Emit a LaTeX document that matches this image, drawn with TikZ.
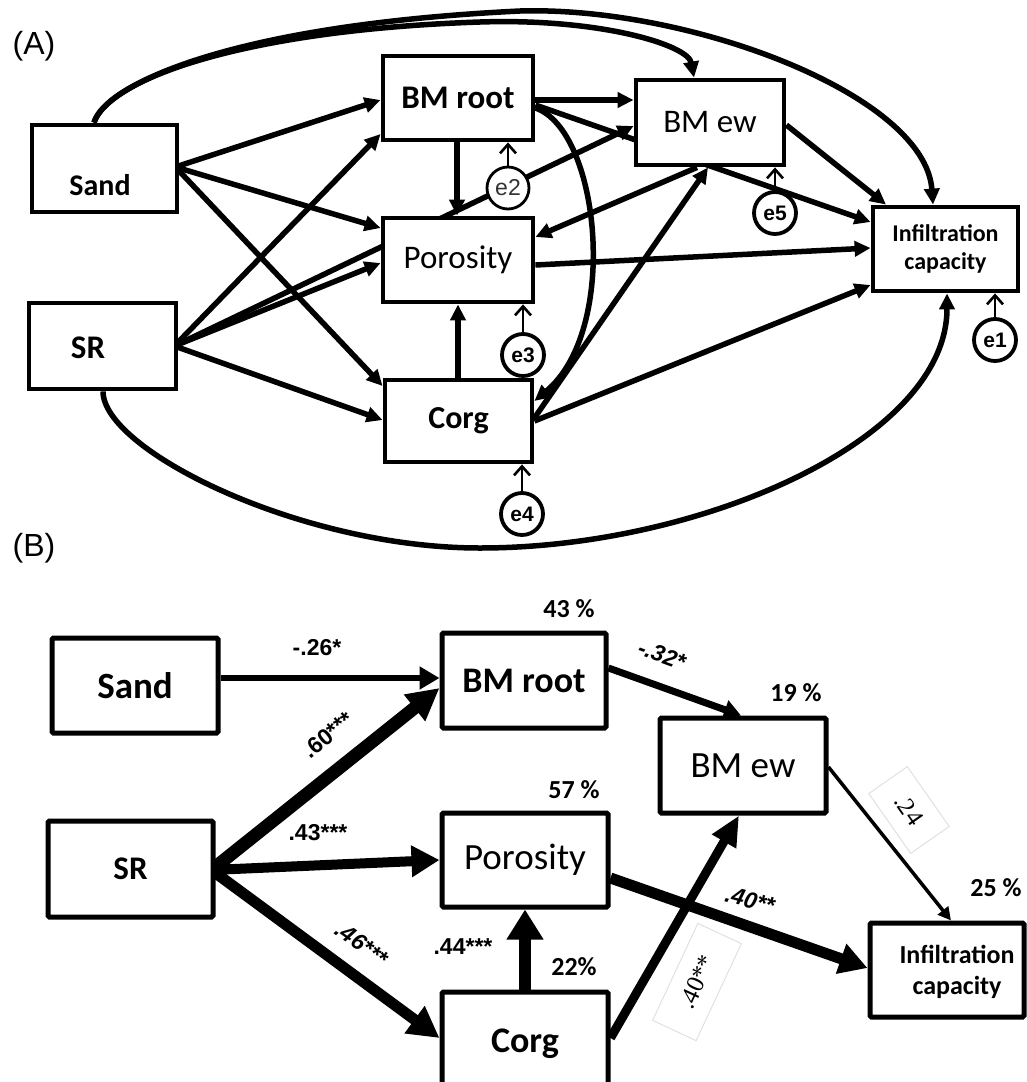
\documentclass[tikz,border=0pt]{standalone}
\usepackage{fontspec}
\setmainfont{Carlito}
\newfontfamily\arialf{Liberation Sans}
\newfontfamily\serifn{Liberation Serif}
\usetikzlibrary{arrows.meta,calc}
\pgfdeclarelayer{edges}
\pgfsetlayers{edges,main}
\tikzset{
  boxa/.style={draw,line width=4.8pt,fill=white,inner sep=0pt},
  boxb/.style={draw,line width=5pt,fill=white,inner sep=0pt,rounded corners=1.5pt},
  fb/.style={font=\fontsize{#1}{#1}\selectfont\bfseries},
  fr/.style={font=\fontsize{#1}{#1}\selectfont},
  errb/.style={circle,draw,line width=3.8pt,fill=white,minimum size=42pt,inner sep=0pt,
    font=\arialf\bfseries\fontsize{21}{21}\selectfont},
  errt/.style={circle,draw,line width=2.8pt,fill=white,minimum size=42pt,inner sep=0pt,
    font=\arialf\fontsize{23}{23}\selectfont,text=black!80},
  pa/.style={line width=5.5pt,-{Triangle[length=16pt,width=15pt]}},
  ea/.style={line width=2.6pt,-{Straight Barb[length=9pt,width=16pt]}},
  coef/.style={font=\arialf\bfseries\fontsize{23}{23}\selectfont,inner sep=0pt},
  coefi/.style={font=\arialf\bfseries\itshape\fontsize{23}{23}\selectfont,inner sep=0pt},
  pct/.style={font=\bfseries\fontsize{26}{26}\selectfont,inner sep=0pt},
  faint/.style={draw=black!12,line width=1pt,inner sep=0pt,font=\serifn\fontsize{25}{25}\selectfont},
  tag/.style={font=\arialf\fontsize{32}{32}\selectfont,inner sep=0pt},
}
\begin{document}
\begin{tikzpicture}[x=1pt,y=-1pt]
\useasboundingbox (0,0) rectangle (1026,1082);

% ---------------- panel (A): full model ----------------
\node[tag] (tagA) at (34,46) {(A)};

\node[boxa,minimum width=145pt,minimum height=87pt] (sandA) at (104.5,168.5) {};
\node[fb=30,inner sep=0pt] (sandAt) at (100,185) {Sand};
\node[boxa,minimum width=147pt,minimum height=86pt] (srA) at (102.5,346) {};
\node[fb=33,inner sep=0pt] (srAt) at (88,348) {SR};
\node[boxa,fb=33,minimum width=150pt,minimum height=84pt] (bmrootA) at (458,98) {BM root};
\node[boxa,fr=33,minimum width=150pt,minimum height=84pt] (porA) at (458,260) {Porosity};
\node[boxa,fb=32,minimum width=147pt,minimum height=82pt] (corgA) at (458.5,421) {Corg};
\node[boxa,fr=33,minimum width=148pt,minimum height=85pt] (bmewA) at (710,122.5) {BM ew};
\node[boxa,font=\fontsize{24}{28}\selectfont\bfseries,align=center,
      minimum width=145pt,minimum height=84pt] (infA) at (945.5,249) {Infiltration\\capacity};

\node[errt] (e2) at (508,188) {e2};
\node[errb] (e3) at (523,355) {e3};
\node[errb] (e4) at (522,514) {e4};
\node[errb] (e5) at (775,213) {e5};
\node[errb] (e1) at (995,340) {e1};

\coordinate (sandAo) at ($(sandA.east)+(-4,-1.5)$);
\coordinate (srAo) at ($(srA.east)+(-4,0)$);

\begin{pgfonlayer}{edges}
  % from Sand
  \draw[pa] (sandAo) -- (bmrootA.west |- 0,100);
  \draw[pa] (sandAo) -- (porA.west |- 0,228);
  \draw[pa] (sandAo) -- (corgA.west |- 0,386);
  \draw[pa] (sandA.north -| 94,0) .. controls (108,80) and (240,30) .. (480,22)
        .. controls (600,18) and (688,45) .. (bmewA.north -| 694,0);
  \draw[pa] (sandA.north -| 94,0) .. controls (105,85) and (230,25) .. (520,11)
        .. controls (690,6) and (925,95) .. (infA.north -| 933,0);
  % from SR
  \draw[pa] (srAo) -- (bmrootA.west |- 0,134);
  \draw[pa] (srAo) -- (bmewA.west |- 0,126);
  \draw[pa] (srAo) -- (porA.west |- 0,263);
  \draw[pa] (srAo) -- (corgA.west |- 0,420);
  \draw[pa] (srA.south -| 103,0) .. controls (103,450) and (300,548) .. (480,548)
        .. controls (700,548) and (947,440) .. (infA.south -| 947,0);
  % from BM root
  \draw[pa] (bmrootA.east |- 0,100) -- (bmewA.west |- 0,100);
  \draw[pa] (bmrootA.east |- 0,105) -- (infA.west |- 0,222);
  \draw[pa] (bmrootA.south -| 457,0) -- (porA.north -| 457,0);
  \draw[pa] (bmrootA.east |- 0,108) .. controls (600,130) and (620,330) .. (corgA.east |- 0,401);
  % from Corg
  \draw[pa] (corgA.north -| 458,0) -- (porA.south -| 458,0);
  \draw[pa] (corgA.east |- 0,418) -- (bmewA.south -| 708,0);
  \draw[pa] (corgA.east |- 0,421) -- (infA.west |- 0,285);
  % from BM ew and Porosity
  \draw[pa] (bmewA.south -| 697,0) -- (porA.east |- 0,237);
  \draw[pa] (bmewA.east |- 0,125) -- (infA.north -| 886,0);
  \draw[pa] (porA.east |- 0,265) -- (infA.west |- 0,248);
  % residual terms
  \draw[ea] (e2.north) -- (e2.north |- bmrootA.south);
  \draw[ea] (e3.north) -- (e3.north |- porA.south);
  \draw[ea] (e4.north) -- (e4.north |- corgA.south);
  \draw[ea] (e5.north) -- (e5.north |- bmewA.south);
  \draw[ea] (e1.north) -- (e1.north |- infA.south);
\end{pgfonlayer}

% ---------------- panel (B): final model ----------------
\node[tag] (tagB) at (34,548) {(B)};

\node[boxb,fb=37,minimum width=166pt,minimum height=95pt] (sandB) at (135,685.5) {Sand};
\node[boxb,fb=33,minimum width=165pt,minimum height=96pt] (srB) at (130.5,869) {SR};
\node[boxb,fb=36,minimum width=164pt,minimum height=95pt] (bmrootB) at (524,680.5) {BM root};
\node[boxb,fr=37,minimum width=166pt,minimum height=94pt] (porB) at (525,860) {Porosity};
\node[boxb,fr=37,minimum width=166pt,minimum height=95pt] (bmewB) at (743,765.5) {BM ew};
\node[boxb,fb=36,minimum width=166pt,minimum height=103pt] (corgB) at (525,1043.5) {Corg};
\node[boxb,minimum width=154pt,minimum height=94pt] (infB) at (947,970) {};
\node[font=\fontsize{26}{31}\selectfont\bfseries,align=center,inner sep=0pt] (infBt) at (957,972) {Infiltration\\capacity};

\node[pct] (p1) at (569,609) {43 \%};
\node[pct] (p2) at (796,693) {19 \%};
\node[pct] (p3) at (574,790) {57 \%};
\node[pct] (p4) at (574,967) {22\%};
\node[pct] (p5) at (996,888) {25 \%};

\coordinate (srBo) at ($(srB.east)+(-4,1)$);

\begin{pgfonlayer}{edges}
  \draw[line width=6pt,-{Triangle[length=20pt,width=22pt]}] (sandB.east |- 0,678) -- (bmrootB.west |- 0,678);
  \draw[line width=13pt,-{Triangle[length=32pt,width=32pt]}] (srBo) -- (bmrootB.west |- 0,688);
  \draw[line width=10pt,-{Triangle[length=28pt,width=30pt]}] (srBo) -- (porB.west |- 0,860);
  \draw[line width=11pt,-{Triangle[length=31pt,width=32pt]}] (srBo) -- (corgB.west |- 0,1038);
  \draw[line width=12pt,-{Triangle[length=30pt,width=35pt]}] (corgB.north -| 525,0) -- (porB.south -| 525,0);
  \draw[line width=7pt,-{Triangle[length=17pt,width=19pt]}] (bmrootB.east |- 0,668) -- (bmewB.north -| 741,0);
  \draw[line width=3.5pt,-{Triangle[length=13pt,width=13pt]}] (bmewB.east |- 0,767) -- (infB.north -| 951,0);
  \draw[line width=11pt,-{Triangle[length=28pt,width=30pt]}] (porB.east |- 0,878) -- (infB.west |- 0,968);
  \draw[line width=9pt,-{Triangle[length=30pt,width=26pt]}] (corgB.east |- 0,1038) -- (bmewB.south -| 739,0);
\end{pgfonlayer}

\node[coef] (c1) at (317,648) {-.26*};
\node[coef,rotate=39] (c2) at (328,735) {.60***};
\node[coef] (c3) at (318,833) {.43***};
\node[coefi,rotate=-36] (c4) at (362,944) {.46***};
\node[coef] (c5) at (463,947) {.44***};
\node[coefi,rotate=-20] (c6) at (662,655) {-.32*};
\node[coefi,rotate=-15] (c7) at (750,900) {.40**};
\node[faint,rotate=-55,minimum width=73pt,minimum height=47pt] (c8) at (909,810) {.24};
\node[faint,rotate=65,minimum width=107pt,minimum height=48pt] (c9) at (697,982) {.40**};
\end{tikzpicture}
\end{document}
